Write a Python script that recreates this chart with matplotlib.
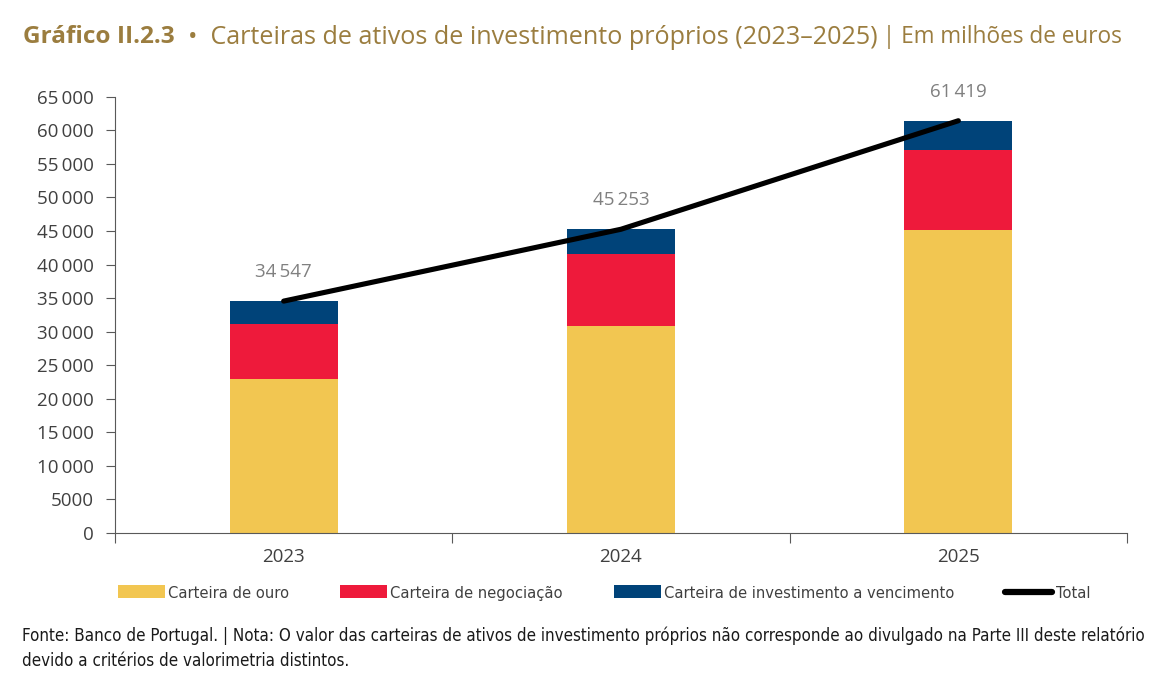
import matplotlib.pyplot as plt
from matplotlib.lines import Line2D
from matplotlib import font_manager

# Dados (milhões de euros)
anos = ["2023", "2024", "2025"]
ouro = [22900, 30900, 45100]
negociacao = [8200, 10700, 11900]
total = [34547, 45253, 61419]
vencimento = [t - o - n for t, o, n in zip(total, ouro, negociacao)]

serie_nomes = ["Carteira de ouro", "Carteira de negociação",
               "Carteira de investimento a vencimento", "Total"]
cores = ["#F2C651", "#EE1A3B", "#004379"]

titulo_cor = "#9B7D3F"
cinza = "#404040"
sans = ["Open Sans", "DejaVu Sans"]

# procurar uma fonte estreita, se existir
estreita = None
for f in font_manager.fontManager.ttflist:
    nome = f.name.lower()
    if ("narrow" in nome or "condensed" in nome or f.stretch in ("condensed", "semi-condensed")) \
            and f.weight in (400, "normal", "regular") and f.style == "normal":
        estreita = f.fname
        break


def fonte(tam):
    if estreita:
        return font_manager.FontProperties(fname=estreita, size=tam)
    return font_manager.FontProperties(family="Open Sans", size=tam)


def fmt(v):
    v = int(round(v))
    if v < 10000:
        return str(v)
    return f"{v:,}".replace(",", "\u2009")


fig = plt.figure(figsize=(11.66, 6.88), dpi=100)
ax = fig.add_axes([115 / 1166, 1 - 533 / 688, (1127 - 115) / 1166, (533 - 96.7) / 688])

x = list(range(len(anos)))
largura = 0.32
b1 = ax.bar(x, ouro, largura, color=cores[0], label=serie_nomes[0])
b2 = ax.bar(x, negociacao, largura, bottom=ouro, color=cores[1], label=serie_nomes[1])
base = [o + n for o, n in zip(ouro, negociacao)]
b3 = ax.bar(x, vencimento, largura, bottom=base, color=cores[2], label=serie_nomes[2])
ax.plot(x, total, color="black", lw=3.7, solid_capstyle="round", label=serie_nomes[3])

for i, t in enumerate(total):
    ax.annotate(fmt(t), (i, t), xytext=(0, 21), textcoords="offset points",
                ha="center", va="center", fontsize=13.5, color="#808080", family=sans)

ax.set_xlim(-0.5, 2.5)
ax.set_ylim(0, 65000)
ax.set_yticks(range(0, 65001, 5000))
ax.set_yticklabels([fmt(v) for v in range(0, 65001, 5000)], family=sans)
ax.set_xticks([-0.5, 0.5, 1.5, 2.5])
ax.set_xticklabels([])
ax.set_xticks(x, minor=True)
ax.set_xticklabels(anos, minor=True, family=sans)
ax.tick_params(axis="x", which="major", length=7, color="#595959")
ax.tick_params(axis="x", which="minor", length=0, pad=11, labelsize=13.5, labelcolor=cinza)
ax.tick_params(axis="y", length=6.5, color="#595959", labelsize=13.5, labelcolor=cinza, pad=9)
for s in ["top", "right"]:
    ax.spines[s].set_visible(False)
for s in ["left", "bottom"]:
    ax.spines[s].set_color("#595959")

handles = [b1, b2, b3, Line2D([0], [0], color="black", lw=4.5, solid_capstyle="round")]
leg_tam = 11.8 if estreita else 10.5
fig.legend(handles, serie_nomes, loc="center left",
           bbox_to_anchor=(118 / 1166, 1 - 593 / 688, (1090 - 118) / 1166, 0.0),
           mode="expand", ncol=4, frameon=False, borderaxespad=0, borderpad=0,
           handlelength=47 / (leg_tam * 100 / 72), handleheight=0.85, handletextpad=0.2,
           prop=fonte(leg_tam), labelcolor=cinza)

# Título em partes
r = fig.canvas.get_renderer()
partes = [("Gráfico II.2.3", "bold", 17.6),
          ("  •  Carteiras de ativos de investimento próprios (2023–2025)", "normal", 18.1),
          (" | Em milhões de euros", "normal", 16.3)]
xpos = 23 / 1166
for txt, peso, tam in partes:
    t = fig.text(xpos, 1 - 37 / 688, txt, fontsize=tam, fontweight=peso, color=titulo_cor,
                 family=sans, va="center", ha="left")
    bb = t.get_window_extent(renderer=r)
    xpos = bb.x1 / fig.bbox.width

# Nota de rodapé, ajustada à largura do original
linha1 = ("Fonte: Banco de Portugal. | Nota: O valor das carteiras de ativos de investimento próprios "
          "não corresponde ao divulgado na Parte III deste relatório")
linha2 = "devido a critérios de valorimetria distintos."
tam = 14
t1 = fig.text(22 / 1166, 1 - 636 / 688, linha1, fontproperties=fonte(tam), va="center", color="#1A1A1A")
w = t1.get_window_extent(renderer=r).width
tam = tam * (1125 / w)
t1.set_fontproperties(fonte(tam))
fig.text(22 / 1166, 1 - 661 / 688, linha2, fontproperties=fonte(tam), va="center", color="#1A1A1A")

fig.savefig("out.png", dpi=100)
